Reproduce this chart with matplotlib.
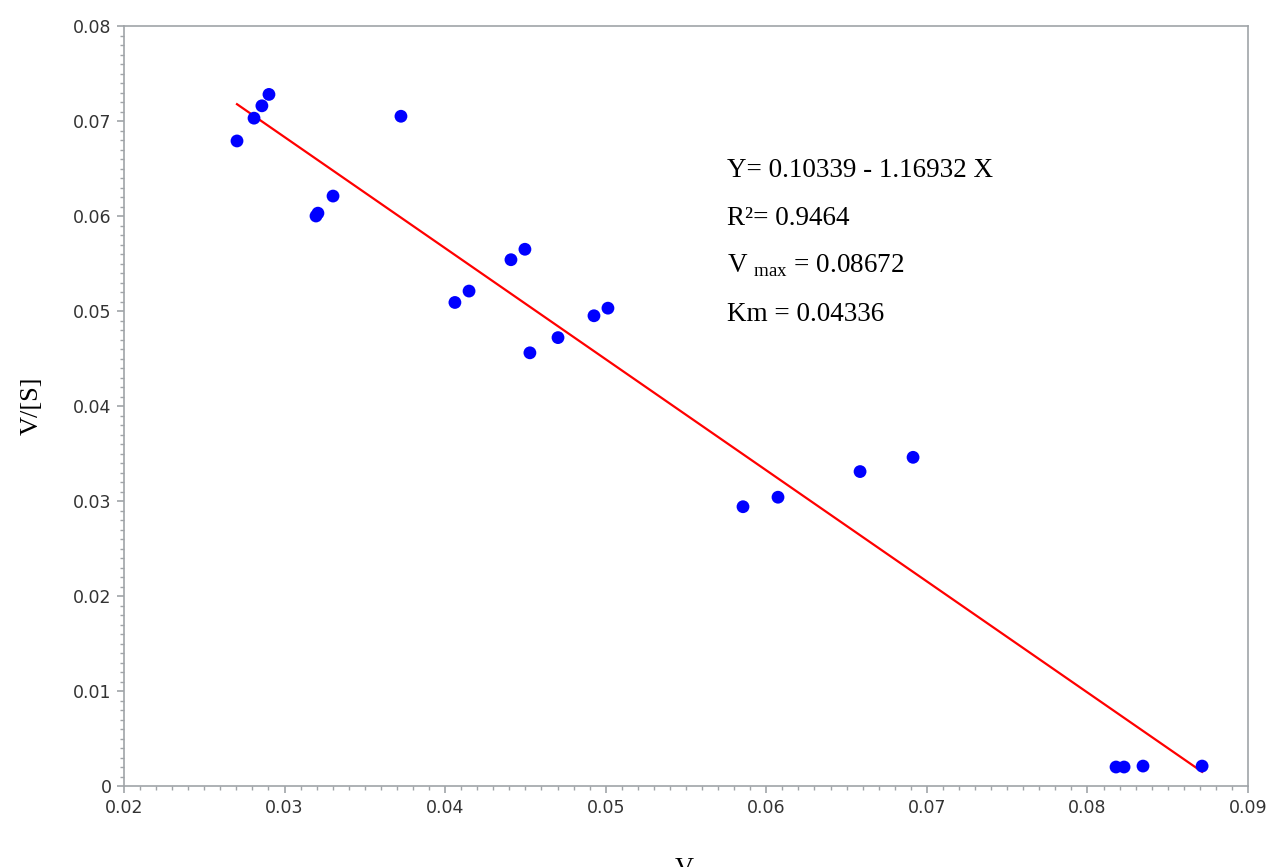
import matplotlib
matplotlib.use("Agg")
import matplotlib.pyplot as plt
import numpy as np
from matplotlib.ticker import MultipleLocator, FormatStrFormatter

# velocity V and V/[S]
v = [0.02704, 0.02810, 0.02859, 0.02903, 0.03725, 0.03196, 0.03208, 0.03302,
     0.04061, 0.04149, 0.04410, 0.04497, 0.04528, 0.04703, 0.04927, 0.05014,
     0.05855, 0.06073, 0.06584, 0.06914, 0.08178, 0.08228, 0.08346, 0.08714]
v_over_s = [0.0679, 0.0703, 0.0716, 0.0728, 0.0705, 0.0600, 0.0603, 0.0621,
            0.0509, 0.0521, 0.0554, 0.0565, 0.0456, 0.0472, 0.0495, 0.0503,
            0.0294, 0.0304, 0.0331, 0.0346, 0.0020, 0.0020, 0.0021, 0.0021]

# regression fit
intercept = 0.10339
slope = -1.16932
fit_x = [min(v), max(v)]

fit_lines = ["Y= 0.10339 - 1.16932 X", "R\u00b2= 0.9464",
             "V $_{\\rm max}$ = 0.08672", "Km = 0.04336"]

plt.rcParams['mathtext.fontset'] = 'custom'
plt.rcParams['mathtext.rm'] = 'Liberation Serif'

grey = '#a0a4a8'
tick_col = '#333333'

fig = plt.figure(figsize=(12.7, 8.67), dpi=100)
ax = fig.add_axes([0.0976, 0.0934, 0.8851, 0.8766])

fit_y = [intercept + slope * x for x in fit_x]
ax.plot(fit_x, fit_y, color='red', linewidth=1.6, zorder=2)
ax.scatter(v, v_over_s, s=85, color='#0000ff', edgecolors='none', zorder=3)

ax.set_xlim(0.02, 0.09)
ax.set_ylim(0, 0.08)
ax.xaxis.set_major_locator(MultipleLocator(0.01))
ax.xaxis.set_minor_locator(MultipleLocator(0.001))
ax.yaxis.set_major_locator(MultipleLocator(0.01))
ax.yaxis.set_minor_locator(MultipleLocator(0.001))
ax.xaxis.set_major_formatter(plt.FuncFormatter(lambda x, p: '0' if abs(x) < 1e-9 else f'{x:.2f}'))
ax.yaxis.set_major_formatter(plt.FuncFormatter(lambda x, p: '0' if abs(x) < 1e-9 else f'{x:.2f}'))

for s in ax.spines.values():
    s.set_color(grey)
    s.set_linewidth(1.2)
ax.tick_params(which='major', length=5, width=1.2, color=grey, labelcolor=tick_col,
               labelsize=12.5, pad=4)
ax.tick_params(which='minor', length=3, width=1.0, color=grey)
for lab in ax.get_xticklabels() + ax.get_yticklabels():
    lab.set_family('DejaVu Sans')

ax.set_ylabel("V/[S]", family='Liberation Serif', fontsize=19, labelpad=22)
fig.text(0.539, -0.002, "V", family='Liberation Serif', fontsize=19,
         ha='center', va='center')

ys = [0.8105, 0.747, 0.684, 0.620]
for txt, yy in zip(fit_lines, ys):
    ax.text(0.5365, yy, txt, transform=ax.transAxes, family='Liberation Serif',
            fontsize=19.5, va='center', ha='left')

fig.savefig("out.png", dpi=100)
